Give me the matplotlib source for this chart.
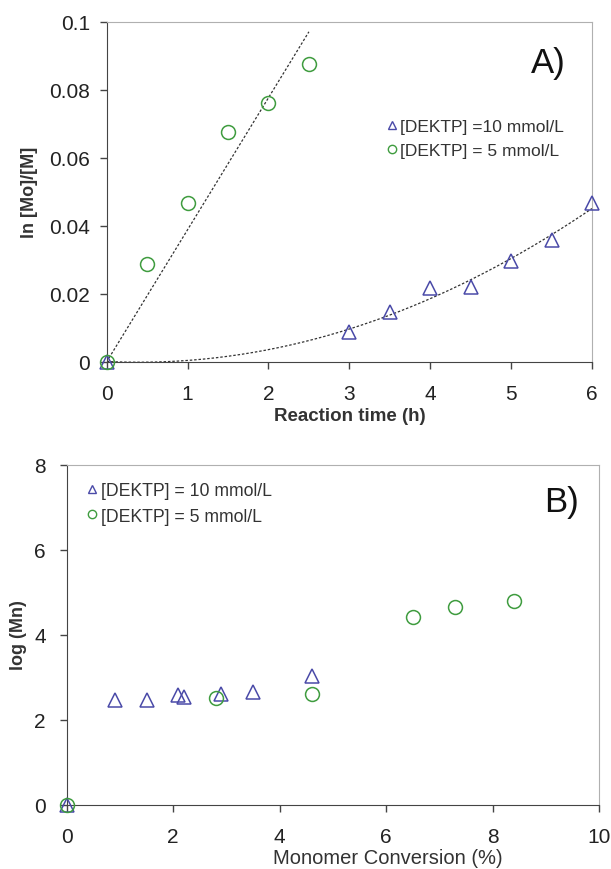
import numpy as np
import matplotlib
matplotlib.use('Agg')
import matplotlib.pyplot as plt
from matplotlib.lines import Line2D

plt.rcParams['font.family'] = ['Liberation Sans', 'DejaVu Sans']

# Panel A: ln[Mo]/[M] vs reaction time
time_10 = [0, 3, 3.5, 4, 4.5, 5, 5.5, 6]
ln_10 = [0, 0.0086, 0.0146, 0.0216, 0.0219, 0.0295, 0.0359, 0.0467]
time_5 = [0, 0.5, 1, 1.5, 2, 2.5]
ln_5 = [0, 0.0287, 0.0467, 0.0676, 0.076, 0.0877]

# Panel B: log(Mn) vs monomer conversion
conv_10 = [0, 0.9, 1.5, 2.1, 2.2, 2.9, 3.5, 4.6]
logmn_10 = [0, 2.47, 2.47, 2.58, 2.52, 2.6, 2.64, 3.03]
conv_5 = [0, 2.8, 4.6, 6.5, 7.3, 8.4]
logmn_5 = [0, 2.5, 2.61, 4.41, 4.64, 4.8]

blue = '#4a4aa8'
green = '#3f9c3f'
label_10a = '[DEKTP] =10 mmol/L'
label_10b = '[DEKTP] = 10 mmol/L'
label_5 = '[DEKTP] = 5 mmol/L'

W, H = 611, 870
fig = plt.figure(figsize=(W / 100, H / 100), dpi=100)


def frac(l, t, r, b):
    return [l / W, 1 - b / H, (r - l) / W, (b - t) / H]


def style_axes(ax, ypad):
    for s in ['top', 'right']:
        ax.spines[s].set_color('#b0b0b0')
    for s in ['left', 'bottom']:
        ax.spines[s].set_color('#444444')
    ax.tick_params(direction='out', length=5, width=1, labelsize=15,
                   color='#444444', labelcolor='#222222',
                   top=False, right=False)
    ax.tick_params(axis='x', pad=11)
    ax.tick_params(axis='y', pad=ypad)


def legend_handles(lab10):
    return [Line2D([], [], ls='none', marker='^', mfc='none', mec=blue,
                   mew=1, ms=6, label=lab10),
            Line2D([], [], ls='none', marker='o', mfc='none', mec=green,
                   mew=1, ms=6, label=label_5)]


# ---- Panel A ----
ax1 = fig.add_axes(frac(106.7, 22.7, 592, 362.7))
style_axes(ax1, 7)

# trend lines fitted from the data
t5 = np.array(time_5)
slope = np.sum(t5 * np.array(ln_5)) / np.sum(t5 ** 2)
xl = np.linspace(0, 2.5, 50)
ax1.plot(xl, slope * xl, ls=(0, (2, 1.5)), color='#333333', lw=0.9)
coef = np.polyfit(time_10, ln_10, 2)
xq = np.linspace(0, 6, 200)
ax1.plot(xq, np.polyval(coef, xq), ls=(0, (2, 1.5)), color='#333333', lw=0.9)

ax1.plot(time_10, ln_10, ls='none', marker='^', mfc='none', mec=blue,
         mew=1.1, ms=10, clip_on=False, zorder=3)
ax1.plot(time_5, ln_5, ls='none', marker='o', mfc='none', mec=green,
         mew=1.1, ms=10, clip_on=False, zorder=3)

ax1.set_xlim(0, 6)
ax1.set_ylim(0, 0.1)
ax1.set_xticks(range(7))
ax1.set_yticks([0, 0.02, 0.04, 0.06, 0.08, 0.1])
ax1.set_yticklabels(['0', '0.02', '0.04', '0.06', '0.08', '0.1'])
ax1.set_xlabel('Reaction time (h)', fontsize=13.5, fontweight='bold',
               color='#333333', labelpad=3)
ax1.set_ylabel('ln [Mo]/[M]', fontsize=13, fontweight='bold',
               color='#333333', labelpad=8)
ax1.text(0.909, 0.879, 'A)', transform=ax1.transAxes, fontsize=25,
         ha='center', va='center', color='#111111')
ax1.legend(handles=legend_handles(label_10a), loc='upper left',
           bbox_to_anchor=(0.555, 0.74), frameon=False, fontsize=12.5,
           handlelength=0.8, handletextpad=0.1, labelspacing=0.5,
           borderpad=0, labelcolor='#333333')

# ---- Panel B ----
ax2 = fig.add_axes(frac(66.7, 465.5, 599, 805.5))
style_axes(ax2, 10)

ax2.plot(conv_10, logmn_10, ls='none', marker='^', mfc='none', mec=blue,
         mew=1.1, ms=10, clip_on=False, zorder=3)
ax2.plot(conv_5, logmn_5, ls='none', marker='o', mfc='none', mec=green,
         mew=1.1, ms=10, clip_on=False, zorder=3)

ax2.set_xlim(0, 10)
ax2.set_ylim(0, 8)
ax2.set_xticks(range(0, 11, 2))
ax2.set_yticks(range(0, 9, 2))
ax2.set_xlabel('Monomer Conversion (%)', fontsize=14.5, color='#333333',
               labelpad=2, x=0.603)
ax2.set_ylabel('log (Mn)', fontsize=13, fontweight='bold',
               color='#333333', labelpad=5)
ax2.text(0.929, 0.891, 'B)', transform=ax2.transAxes, fontsize=25,
         ha='center', va='center', color='#111111')
ax2.legend(handles=legend_handles(label_10b), loc='upper left',
           bbox_to_anchor=(0.018, 0.975), frameon=False, fontsize=12.7,
           handlelength=0.8, handletextpad=0.1, labelspacing=0.5,
           borderpad=0, labelcolor='#333333')

fig.savefig('out.png', dpi=100, facecolor='white')
